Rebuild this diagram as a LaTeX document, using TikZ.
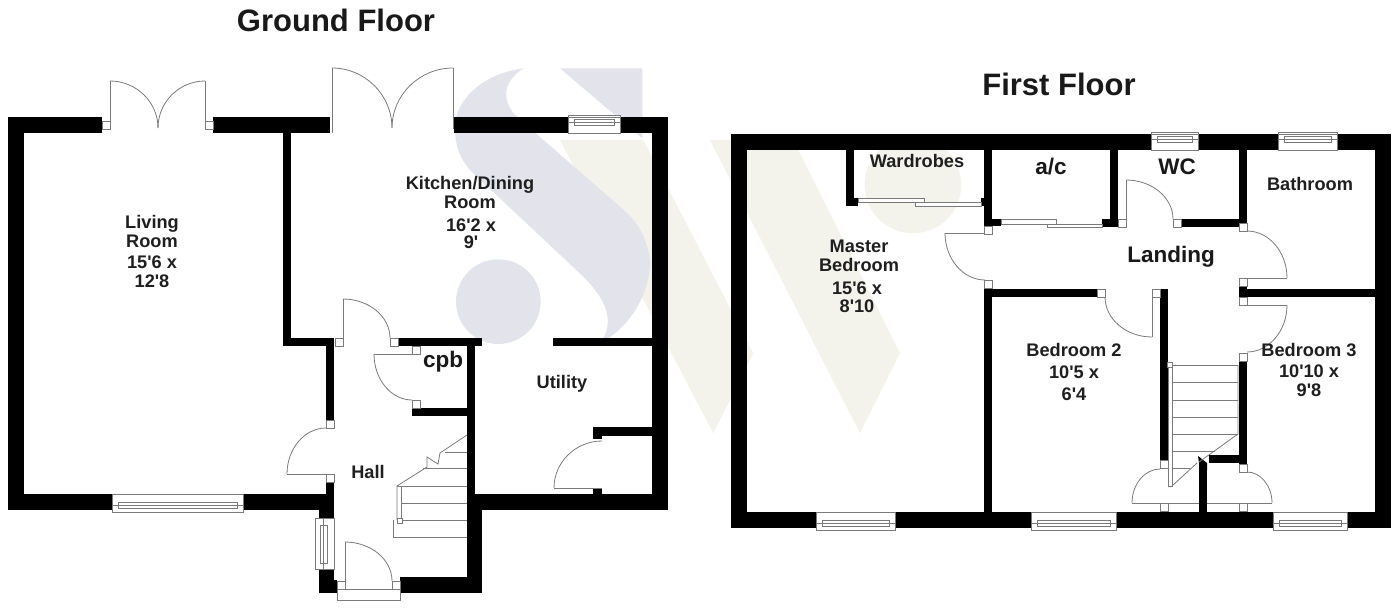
\documentclass[tikz,border=0pt]{standalone}
\usepackage{fontspec}
\setmainfont{Liberation Sans}[Ligatures=TeXOff]
\definecolor{wmS}{HTML}{E3E3EC}
\definecolor{wmW}{HTML}{F3F3EC}
\definecolor{dr}{HTML}{7A7A7A}
\tikzset{
  wallf/.style={fill=black,draw=none},
  thin line/.style={draw=dr,line width=0.8pt},
  lbl/.style={anchor=base,font=\bfseries\fontsize{18.2}{20}\selectfont,inner sep=0pt,text=black!88},
  lblb/.style={anchor=base,font=\bfseries\fontsize{22.5}{24}\selectfont,inner sep=0pt,text=black!90},
  ttl/.style={anchor=base,font=\bfseries\fontsize{31}{33}\selectfont,inner sep=0pt,text=black!90},
  postb/.style={fill=white,draw=dr,line width=0.8pt},
  panel/.style={fill=white,draw=dr,line width=0.8pt}
}
\newcommand\wl[4]{\fill[wallf] (#1,#2) rectangle (#3,#4);}
\newcommand\pst[2]{\draw[postb] (#1,#2) rectangle ++(8,8);}
\newcommand\hv[4]{\draw[thin line] (#1,#2) .. controls ({#1+.55*(#3-#1)},#2) and (#3,{#4-.55*(#4-#2)}) .. (#3,#4);}
\newcommand\dln[4]{\draw[thin line] (#1,#2) -- (#3,#4);}
\newcommand\topwin[3]{%
  \draw[panel] (#1,#3-2) rectangle (#2,#3+16);
  \draw[thin line] (#1,#3) -- (#2,#3);
  \draw[thin line] (#1+6,#3+2) rectangle (#2-6,#3+8);
  \draw[thin line] (#1,#3+5) -- (#2,#3+5);}
\newcommand\botwin[3]{%
  \draw[panel] (#1,#3-16) rectangle (#2,#3+2);
  \draw[thin line] (#1+6,#3-8) rectangle (#2-6,#3-2);
  \draw[thin line] (#1,#3-5) -- (#2,#3-5);}
\begin{document}
\begin{tikzpicture}[x=1pt,y=-1pt]
\useasboundingbox (0,0) rectangle (1400,608);
\fill[white] (0,0) rectangle (1400,608);
% watermark
\begin{scope}[shift={(440,60)},x=0.3333pt,y=-0.3333pt]
  \fill[wmW] (360,240) -- (610,240) -- (940,880) -- (820,1120) -- cycle;
  \fill[wmW] (810,240) -- (1060,240) -- (1380,880) -- (1260,1120) -- cycle;
  \fill[wmW] (1419,375) circle (145);
  \fill[wmS] (250,25) .. controls (130,40) and (45,120) .. (45,200)
     .. controls (45,260) and (60,300) .. (100,340) -- (430,650)
     .. controls (500,720) and (520,780) .. (490,835) -- (505,835)
     .. controls (600,770) and (645,650) .. (625,570)
     .. controls (605,500) and (575,470) .. (540,440) -- (230,170)
     .. controls (190,130) and (180,70) .. (250,25) -- cycle;
  \fill[wmS] (360,25) -- (607,25) -- (607,235) -- cycle;
  \fill[wmS] (175,725) circle (127);
\end{scope}
% ---- Ground floor walls
\wl{8}{117}{102}{133}
\wl{213}{117}{330}{133}
\wl{454}{117}{668}{133}
\wl{8}{117}{24}{510}
\wl{652}{117}{668}{510}
\wl{8}{494}{334}{510}
\wl{283}{133}{291}{346}
\wl{283}{338}{334}{346}
\wl{326}{338}{334}{420}
\wl{398}{338}{482}{346}
\wl{467}{338}{475}{510}
\wl{553}{338}{652}{346}
\wl{412}{408}{467}{416}
\wl{467}{494}{668}{510}
\wl{467}{510}{482}{593}
\wl{400}{577}{482}{593}
\wl{326}{482}{334}{518}
\wl{319}{494}{334}{518}
\wl{319}{569}{334}{593}
\wl{319}{580}{337}{593}
\wl{593}{427}{652}{436}
\wl{593}{427}{602}{439}
\wl{593}{489}{602}{494}
% windows ground
\topwin{568}{620}{117}
\botwin{112}{243}{510}
\draw[panel] (315,518) rectangle (334,569);
\draw[thin line] (320,525) rectangle (327,563);
\draw[thin line] (323.5,518) -- (323.5,569);
% ground doors
\draw[postb] (102,121) rectangle (110,129);
\draw[postb] (205,121) rectangle (213,129);
\dln{110}{81}{110}{129} \dln{205}{81}{205}{129}
\hv{110}{81}{158}{128} \hv{205}{81}{158}{128}
\dln{332}{68}{332}{133} \dln{453}{68}{453}{129}
\hv{332}{68}{392}{128} \hv{453}{68}{392}{128}
\pst{335}{338} \pst{390}{338}
\dln{343}{299}{343}{346} \hv{343}{299}{390}{338}
\pst{412}{346} \pst{412}{400}
\dln{374}{354}{412}{354} \hv{412}{400}{374}{354}
\pst{326}{420} \pst{326}{474}
\dln{287}{474}{326}{474} \hv{326}{428}{287}{474}
\pst{337}{581} \pst{392}{581}
\dln{345}{542}{345}{589} \hv{345}{542}{392}{581}
\draw[panel] (337,589) rectangle (400,600);
\dln{554}{488}{602}{488} \hv{602}{441}{554}{488}
% ground stairs
\foreach \yy/\xx in {486/397,503/401,520/401,537/393,468/423,452/445}{\draw[thin line] (\xx,\yy) -- (467,\yy);}
\draw[thin line] (397,520) -- (397,486) -- (427,467) -- (427,457) -- (438,464) -- (440,453) -- (467,435);
\draw[thin line] (401,486) -- (401,520);
\draw[thin line] (393,520) -- (393,537);
\draw[postb] (397,518) rectangle (402,523);
% ---- First floor walls
\wl{731}{134}{1391}{150}
\wl{731}{134}{747}{528}
\wl{1375}{134}{1391}{528}
\wl{731}{512}{1391}{528}
\wl{846}{150}{854}{206}
\wl{846}{198}{858}{206}
\wl{981}{198}{992}{206}
\wl{984}{150}{992}{226}
\wl{984}{219}{1001}{226}
\wl{1110}{150}{1118}{227}
\wl{1102}{219}{1118}{227}
\wl{1181}{219}{1239}{227}
\wl{1239}{150}{1247}{227}
\wl{1239}{286}{1247}{297}
\wl{1247}{289}{1375}{297}
\wl{984}{288}{992}{512}
\wl{984}{289}{1097}{297}
\wl{1160}{289}{1168}{460}
\wl{1239}{361}{1247}{464}
\wl{1209}{455}{1247}{463}
\wl{1199}{463}{1207}{512}
\fill[wallf] (1198,456) -- (1207,463) -- (1207,470) -- (1199,470) -- (1199,463) -- cycle;
% windows first
\topwin{1151}{1198}{134}
\topwin{1278}{1337}{134}
\botwin{816}{895}{528}
\botwin{1031}{1116}{528}
\botwin{1273}{1347}{528}
% sliding
\draw[panel] (858,198) rectangle (924,202);
\draw[panel] (915,202) rectangle (981,206);
\draw[panel] (1001,219) rectangle (1056,224);
\draw[panel] (1047,224) rectangle (1102,227);
% first doors
\pst{984}{226} \pst{984}{280}
\dln{945}{233}{985}{233} \hv{985}{280}{945}{233}
\pst{1118}{219} \pst{1173}{219}
\dln{1126}{180}{1126}{227} \hv{1126}{180}{1173}{219}
\pst{1239}{223} \pst{1239}{278}
\dln{1247}{278}{1287}{278} \hv{1247}{231}{1287}{278}
\pst{1239}{297} \pst{1239}{353}
\dln{1247}{305}{1287}{305} \hv{1247}{352}{1287}{305}
\pst{1097}{289} \pst{1152}{289}
\dln{1152}{297}{1152}{337} \hv{1152}{337}{1105}{297}
\pst{1160}{460} \pst{1239}{464}
\pst{1160}{503} \pst{1239}{503}
\dln{1132}{503}{1199}{503} \dln{1207}{503}{1272}{503}
\hv{1160}{469}{1132}{503} \hv{1247}{472}{1272}{503}
% first stairs
\foreach \yy/\xx in {365/1238,382/1238,400/1238,417/1238,434/1238,451/1215,468/1190}{\draw[thin line] (1172,\yy) -- (\xx,\yy);}
\draw[thin line] (1168,365) -- (1168,486) -- (1172,486) -- (1172,365);
\draw[thin line] (1238,365) -- (1238,434) -- (1199,462);
\draw[thin line] (1197,463) -- (1172,486);
\draw[postb] (1167,362) rectangle (1172,367);
% ---- Titles
\node[ttl] (tg) at (336,31) {Ground Floor};
\node[ttl] (tf) at (1059,95) {First Floor};
% ---- Labels ground
\node[lbl] (l1) at (152,228) {Living};
\node[lbl] (l2) at (152,247) {Room};
\node[lbl] (l3) at (152,268) {15'6 x};
\node[lbl] (l4) at (152,287) {12'8};
\node[lbl] (k1) at (470,189) {Kitchen/Dining};
\node[lbl] (k2) at (470,208) {Room};
\node[lbl] (k3) at (471,231) {16'2 x};
\node[lbl] (k4) at (471,248) {9'};
\node[lbl] (ut) at (562,388) {Utility};
\node[lblb] (cp) at (443,367) {cpb};
\node[lbl] (ha) at (368,478) {Hall};
% ---- Labels first
\node[lbl] (m1) at (859,252) {Master};
\node[lbl] (m2) at (859,271) {Bedroom};
\node[lbl] (m3) at (857,294) {15'6 x};
\node[lbl] (m4) at (857,312) {8'10};
\node[lbl] (wd) at (917,167) {Wardrobes};
\node[lblb] (ac) at (1051,174) {a/c};
\node[lblb] (wc) at (1177,174) {WC};
\node[lbl] (ba) at (1310,190) {Bathroom};
\node[lblb] (la) at (1171,262) {Landing};
\node[lbl] (b21) at (1074,356) {Bedroom 2};
\node[lbl] (b22) at (1074,378) {10'5 x};
\node[lbl] (b23) at (1074,400) {6'4};
\node[lbl] (b31) at (1309,356) {Bedroom 3};
\node[lbl] (b32) at (1309,377) {10'10 x};
\node[lbl] (b33) at (1309,396) {9'8};
\end{tikzpicture}
\end{document}
